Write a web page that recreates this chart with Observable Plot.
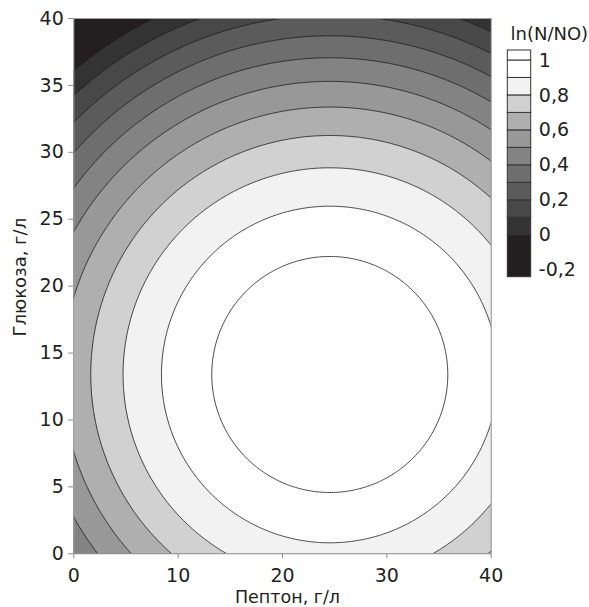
<!DOCTYPE html>
<html>
<head>
<meta charset="utf-8">
<script src="https://cdn.jsdelivr.net/npm/d3@7"></script>
<script src="https://cdn.jsdelivr.net/npm/@observablehq/plot@0.6"></script>
<style>
  body { margin: 0; background: #fff; }
  #chart { position: relative; width: 589px; height: 607px; }
  #legend { position: absolute; left: 490px; top: 0; }
  g[aria-label="x-axis tick"], g[aria-label="y-axis tick"] { stroke: #8a8a8a; }
</style>
</head>
<body>
<div id="chart"><div id="main"></div><div id="legend"></div></div>
<script>
// Quadratic response surface:
// ln(N/N0) = b0 + b1*P + b2*G + b11*P^2 + b22*G^2 + b12*P*G
const coefNames  = ["b0", "b1", "b2", "b11", "b22", "b12"];
const coefValues = [0.4184, 0.03710, 0.03333, -0.0007562, -0.0012438, 0];

const levels     = [0, 0.1, 0.2, 0.3, 0.4, 0.5, 0.6, 0.7, 0.8, 0.9, 1.0];
const bandColors = ["#231f20", "#333333", "#484848", "#5b5b5b", "#6e6e6e", "#838383",
                    "#989898", "#afafaf", "#d1d1d1", "#f2f2f2", "#ffffff", "#ffffff"];

const xTicks = [0, 10, 20, 30, 40];
const yTicks = [0, 5, 10, 15, 20, 25, 30, 35, 40];
const legendTicks = [1, 0.8, 0.6, 0.4, 0.2, 0, -0.2];
const legendExtent = [-0.24, 1.057];

const xTitle = "Пептон, г/л";
const yTitle = "Глюкоза, г/л";
const legendTitle = "ln(N/NO)";

const coef = Object.fromEntries(coefNames.map((n, i) => [n, coefValues[i]]));
const surface = (p, g) =>
  coef.b0 + coef.b1 * p + coef.b2 * g + coef.b11 * p * p + coef.b22 * g * g + coef.b12 * p * g;

const colorScale = {type: "threshold", domain: levels, range: bandColors};

const main = Plot.plot({
  width: 589,
  height: 607,
  marginLeft: 73.3,
  marginRight: 98.3,
  marginTop: 18,
  marginBottom: 53.7,
  style: {fontFamily: "DejaVu Sans", fontSize: "19px", color: "#231f20", background: "transparent"},
  x: {domain: [0, 40], ticks: xTicks, tickSize: 5, tickPadding: 10, label: null},
  y: {domain: [0, 40], ticks: yTicks, tickSize: 5, tickPadding: 5, label: null},
  color: colorScale,
  marks: [
    Plot.frame({fill: bandColors[0], stroke: null}),
    Plot.contour({
      value: surface,
      x1: -3, x2: 43, y1: -3, y2: 43,
      thresholds: levels,
      fill: "value",
      stroke: "#1a1a1a",
      strokeWidth: 0.8,
      clip: true
    }),
    Plot.frame({stroke: "#a0a0a0"}),
    Plot.text([xTitle], {frameAnchor: "bottom", textAnchor: "middle", lineAnchor: "middle",
                         dy: 43.9, dx: 5, fontSize: 17.5, fill: "#231f20"}),
    Plot.text([yTitle], {frameAnchor: "left", textAnchor: "middle", lineAnchor: "middle",
                         rotate: -90, dx: -54, dy: -9, fontSize: 18, fill: "#231f20"})
  ]
});
document.getElementById("main").appendChild(main);

const bands = [];
const edges = [legendExtent[0], ...levels, legendExtent[1]];
for (let i = 0; i < edges.length - 1; i++) bands.push({lo: edges[i], hi: edges[i + 1]});

const legend = Plot.plot({
  width: 99,
  height: 290,
  marginLeft: 17.3,
  marginRight: 58.3,
  marginTop: 50,
  marginBottom: 13.3,
  style: {fontFamily: "DejaVu Sans", fontSize: "19px", color: "#231f20", background: "transparent"},
  x: {domain: [0, 1], axis: null},
  y: {domain: legendExtent, axis: null},
  color: colorScale,
  marks: [
    Plot.rect(bands, {x1: 0, x2: 1, y1: "lo", y2: "hi", fill: "lo", stroke: "#333", strokeWidth: 1}),
    Plot.text(legendTicks, {x: 1, y: d => d, text: d => String(d).replace(".", ","),
                            textAnchor: "start", lineAnchor: "middle", dx: 7.6, fill: "#231f20"}),
    Plot.text([legendTitle], {frameAnchor: "top-left", dx: 2.7, dy: -15.8, textAnchor: "start",
                              lineAnchor: "middle", fontSize: 18, fill: "#231f20"})
  ]
});
document.getElementById("legend").appendChild(legend);
</script>
</body>
</html>
